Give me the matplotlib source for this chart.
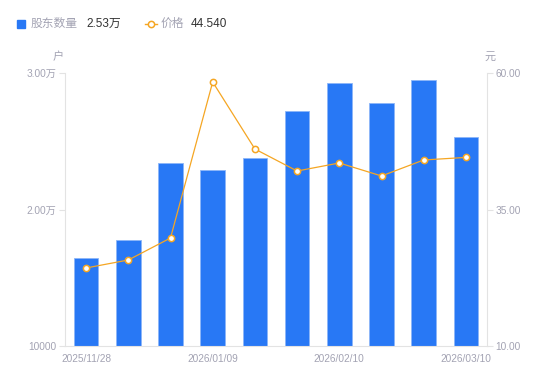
import matplotlib.pyplot as plt
import numpy as np

plt.rcParams['font.family'] = ['Liberation Sans', 'Noto Sans CJK SC', 'DejaVu Sans']

dates = ['2025/11/28', '2025/12/10', '2025/12/31', '2026/01/09', '2026/01/20',
         '2026/01/30', '2026/02/10', '2026/02/20', '2026/02/28', '2026/03/10']
holders = [16450, 17770, 23410, 22890, 23770, 27220, 29270, 27800, 29490, 25300]
price = [24.29, 25.75, 29.78, 58.35, 46.08, 42.05, 43.52, 41.14, 44.07, 44.54]
left_ticks = [10000, 20000, 30000]
left_labels = ['10000', '2.00万', '3.00万']
right_ticks = [10, 35, 60]
right_labels = ['10.00', '35.00', '60.00']

blue = '#2878F5'
orange = '#F5A623'
gray = '#A3A3B3'
axis_c = '#E3E3E3'

fig = plt.figure(figsize=(5.5, 3.81), dpi=100)
ax = fig.add_axes([65 / 550, 1 - 346 / 381, 422 / 550, 273 / 381])
x = np.arange(len(dates))
ax.bar(x, holders, width=0.58, bottom=0, color=blue, edgecolor='#8DB6F8', linewidth=0.6, zorder=2)
ax.set_xlim(-0.5, len(dates) - 0.5)
ax.set_ylim(10000, 30000)
ax.set_yticks(left_ticks)
ax.set_yticklabels(left_labels)
ax.set_xticks([0, 3, 6, 9])
ax.set_xticklabels([dates[i] for i in [0, 3, 6, 9]])

ax2 = ax.twinx()
ax2.plot(x, price, color=orange, linewidth=0.9, marker='o', markersize=4.5,
         markerfacecolor='white', markeredgecolor=orange, markeredgewidth=1.1, zorder=3)
ax2.set_ylim(10, 60)
ax2.set_yticks(right_ticks)
ax2.set_yticklabels(right_labels)

for a in (ax, ax2):
    for s in a.spines.values():
        s.set_visible(False)
    a.tick_params(colors=axis_c, labelcolor=gray, labelsize=7.3, length=4, width=0.8)
ax.spines['left'].set_visible(True)
ax.spines['left'].set_color(axis_c)
ax.spines['bottom'].set_visible(True)
ax.spines['bottom'].set_color(axis_c)
ax2.spines['right'].set_visible(True)
ax2.spines['right'].set_color(axis_c)
ax.tick_params(axis='x', length=0, pad=6)
ax.tick_params(axis='y', pad=2)
ax2.tick_params(axis='y', pad=2)

fig.text(58 / 550, 1 - 57 / 381, '户', color=gray, fontsize=8, ha='center', va='center')
fig.text(490 / 550, 1 - 57 / 381, '元', color=gray, fontsize=8, ha='center', va='center')

# legend
fig.patches.append(plt.Rectangle((17 / 550, 1 - 28 / 381), 8 / 550, 8 / 381,
                                 transform=fig.transFigure, color=blue))
fig.text(31 / 550, 1 - 24 / 381, '股东数量', color=gray, fontsize=8.5, va='center')
fig.text(86 / 550, 1 - 24 / 381, '2.53万', color='#333333', fontsize=8.5, va='center')
fig.add_artist(plt.Line2D([145 / 550, 157 / 550], [1 - 24 / 381, 1 - 24 / 381],
                          color=orange, linewidth=1, transform=fig.transFigure))
fig.add_artist(plt.Line2D([151 / 550], [1 - 24 / 381], marker='o', markersize=4.5,
                          markerfacecolor='white', markeredgecolor=orange, markeredgewidth=1.1,
                          transform=fig.transFigure))
fig.text(161 / 550, 1 - 24 / 381, '价格', color=gray, fontsize=8.5, va='center')
fig.text(191 / 550, 1 - 24 / 381, '44.540', color='#333333', fontsize=8.5, va='center')

fig.savefig('out.png', dpi=100)
